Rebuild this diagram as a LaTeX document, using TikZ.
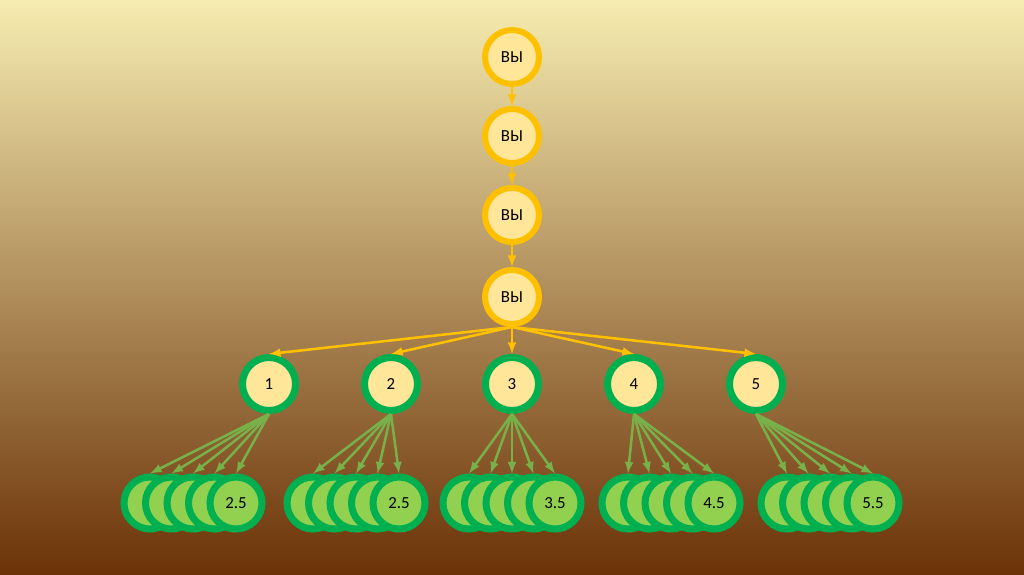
\documentclass[tikz,border=0pt]{standalone}
\usepackage{fontspec}
\setmainfont{Carlito}
\definecolor{gold}{HTML}{FFC000}
\definecolor{cream}{HTML}{FFE699}
\definecolor{leaf}{HTML}{00B050}
\definecolor{lime}{HTML}{92D050}
\definecolor{sprout}{HTML}{78B04A}
\definecolor{paper}{HTML}{F6ECB0}
\definecolor{tan}{HTML}{A6814E}
\definecolor{bark}{HTML}{6B3208}

\begin{document}
\begin{tikzpicture}[
    x=0.025cm, y=-0.025cm,
    you/.style={circle, draw=gold, fill=cream, line width=0.15cm,
                minimum size=1.35cm, inner sep=0pt,
                font=\fontsize{12}{14}\selectfont},
    num/.style={you, draw=leaf, line width=0.175cm, minimum size=1.325cm},
    half/.style={you, draw=leaf, fill=lime, line width=0.175cm, minimum size=1.3cm},
    up/.style={-latex, line width=1.8pt, gold},
    down/.style={-latex, line width=1.8pt, sprout}
]
  % Background
  \fill[top color=paper, middle color=tan, bottom color=bark] (0,0) rectangle (1024,574);

  % Chain of "you"
  \node[you] (y1) at (512,57)  {ВЫ};
  \node[you] (y2) at (512,136) {ВЫ};
  \node[you] (y3) at (512,215) {ВЫ};
  \node[you] (y4) at (512,297) {ВЫ};
  \draw[up] (y1) -- (y2);
  \draw[up] (y2) -- (y3);
  \draw[up] (y3) -- (y4);

  % Numbered row
  \node[num] (n1) at (269,384) {1};
  \node[num] (n2) at (391,384) {2};
  \node[num] (n3) at (512,384) {3};
  \node[num] (n4) at (634,384) {4};
  \node[num] (n5) at (756,384) {5};
  \foreach \p in {1,...,5}
    \draw[up] (y4.south) -- (n\p.north);

  % Stacked groups below each number
  \foreach \p/\last/\lab in {1/236/2.5, 2/399/2.5, 3/555/3.5, 4/714/4.5, 5/873/5.5} {
    \foreach \k in {1,...,5}
      \node[half] (c\p\k) at ({\last-(5-\k)*21.5},503) {\ifnum\k=5 \lab\fi};
    \foreach \k in {1,...,5}
      \draw[down] (n\p.south) -- (c\p\k.north);
  }
\end{tikzpicture}
\end{document}
